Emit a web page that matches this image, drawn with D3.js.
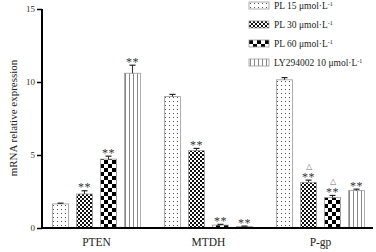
<!DOCTYPE html>
<html>
<head>
<meta charset="utf-8">
<script src="https://cdn.jsdelivr.net/npm/d3@7"></script>
<style>
  body { margin: 0; background: #fff; }
  svg { font-family: "Liberation Serif", "Times New Roman", serif; }
</style>
</head>
<body>
<svg id="chart" width="376" height="252"></svg>
<script>
const genes = ["PTEN", "MTDH", "P-gp"];
const series = ["PL 15", "PL 30", "PL 60", "LY294002 10"];
const means = [
  [1.65, 9.0, 10.15],
  [2.33, 5.3, 3.13],
  [4.72, 0.2, 2.08],
  [10.6, 0.1, 2.56]
];
const errs = [
  [0.05, 0.15, 0.15],
  [0.22, 0.15, 0.15],
  [0.2, 0.05, 0.15],
  [0.55, 0.03, 0.1]
];
const stars = [
  ["", "", ""],
  ["**", "**", "**"],
  ["**", "**", "**"],
  ["**", "**", "**"]
];
const triangles = [
  ["", "", ""],
  ["", "", "△"],
  ["", "", "△"],
  ["", "", ""]
];
const yTicks = [0, 5, 10, 15];

const svg = d3.select("#chart");
const defs = svg.append("defs");

// patterns
const p1 = defs.append("pattern").attr("id", "pat0").attr("patternUnits", "userSpaceOnUse")
  .attr("width", 4).attr("height", 4);
p1.append("rect").attr("width", 4).attr("height", 4).attr("fill", "#fff");
p1.append("rect").attr("x", 1).attr("y", 1).attr("width", 1).attr("height", 1).attr("fill", "#555");

const p2 = defs.append("pattern").attr("id", "pat1").attr("patternUnits", "userSpaceOnUse")
  .attr("width", 4).attr("height", 4);
p2.append("rect").attr("width", 4).attr("height", 4).attr("fill", "#fff");
p2.append("rect").attr("width", 2).attr("height", 2).attr("fill", "#111");
p2.append("rect").attr("x", 2).attr("y", 2).attr("width", 2).attr("height", 2).attr("fill", "#111");

const p3 = defs.append("pattern").attr("id", "pat2").attr("patternUnits", "userSpaceOnUse")
  .attr("width", 8).attr("height", 8);
p3.append("rect").attr("width", 8).attr("height", 8).attr("fill", "#fff");
p3.append("rect").attr("width", 4).attr("height", 4).attr("fill", "#000");
p3.append("rect").attr("x", 4).attr("y", 4).attr("width", 4).attr("height", 4).attr("fill", "#000");

const p4 = defs.append("pattern").attr("id", "pat3").attr("patternUnits", "userSpaceOnUse")
  .attr("width", 4).attr("height", 4);
p4.append("rect").attr("width", 4).attr("height", 4).attr("fill", "#fff");
p4.append("rect").attr("x", 1).attr("width", 1).attr("height", 4).attr("fill", "#888");

const x0 = d3.scaleBand().domain(genes).range([40.5, 376.5]);
const x1 = d3.scaleBand().domain(series).range([12, 100]).paddingInner(1 / 3);
const y = d3.scaleLinear().domain([0, 15]).range([228, 9]);

// bars
series.forEach((s, i) => {
  const g = svg.append("g");
  genes.forEach((gene, j) => {
    const bx = x0(gene) + x1(s);
    const bw = x1.bandwidth();
    const v = means[i][j];
    const e = errs[i][j];
    const cx = bx + bw / 2;
    g.append("rect")
      .attr("x", bx).attr("y", y(v))
      .attr("width", bw).attr("height", y(0) - y(v))
      .attr("fill", `url(#pat${i})`)
      .attr("stroke", "#999").attr("stroke-width", 0.8);
    // error bar
    g.append("line").attr("x1", cx).attr("x2", cx)
      .attr("y1", y(v)).attr("y2", y(v + e))
      .attr("stroke", "#333").attr("stroke-width", 1);
    g.append("line").attr("x1", cx - 3).attr("x2", cx + 3)
      .attr("y1", y(v + e)).attr("y2", y(v + e))
      .attr("stroke", "#222").attr("stroke-width", 1.2);
    if (stars[i][j]) {
      g.append("text").attr("x", cx).attr("y", y(v + e) + 0.5)
        .attr("text-anchor", "middle").attr("font-size", 12)
        .attr("letter-spacing", 0.5)
        .attr("fill", "#333").text(stars[i][j]);
    }
    if (triangles[i][j]) {
      g.append("text").attr("x", cx).attr("y", y(v + e) - 11)
        .attr("text-anchor", "middle").attr("font-size", 8)
        .attr("fill", "#777").text(triangles[i][j]);
    }
  });
});

// axes
const yAxis = svg.append("g").attr("transform", "translate(42,0)")
  .call(d3.axisLeft(y).tickValues(yTicks).tickSize(5).tickPadding(2));
yAxis.select(".domain").attr("stroke-width", 2).attr("d", "M0,9V228");
yAxis.selectAll(".tick line").attr("stroke-width", 1.5);
yAxis.selectAll("text").attr("font-size", 9).attr("fill", "#333")
  .attr("font-family", "Liberation Serif");

const xAxis = svg.append("g").attr("transform", "translate(0,228)")
  .call(d3.axisBottom(x0).tickSize(0).tickPadding(10));
xAxis.select(".domain").attr("stroke-width", 2).attr("d", "M41,0H373");
xAxis.selectAll("text").attr("font-size", 11.5).attr("fill", "#222")
  .attr("font-family", "Liberation Serif");

svg.append("text")
  .attr("transform", "translate(17,118) rotate(-90)")
  .attr("text-anchor", "middle").attr("font-size", 11).attr("fill", "#222")
  .text("mRNA relative expression");

// legend
const legend = svg.append("g").attr("transform", "translate(249,2)");
series.forEach((s, i) => {
  const row = legend.append("g").attr("transform", `translate(0,${i * 19})`);
  row.append("rect").attr("width", 20).attr("height", 7)
    .attr("fill", `url(#pat${i})`).attr("stroke", "#999").attr("stroke-width", 0.8);
  const t = row.append("text").attr("x", 25).attr("y", 7)
    .attr("font-size", 9.5).attr("fill", "#222");
  t.append("tspan").text(`${s} μmol·L`);
  t.append("tspan").attr("dy", -3.5).attr("font-size", 6).text("-1");
});
</script>
</body>
</html>
